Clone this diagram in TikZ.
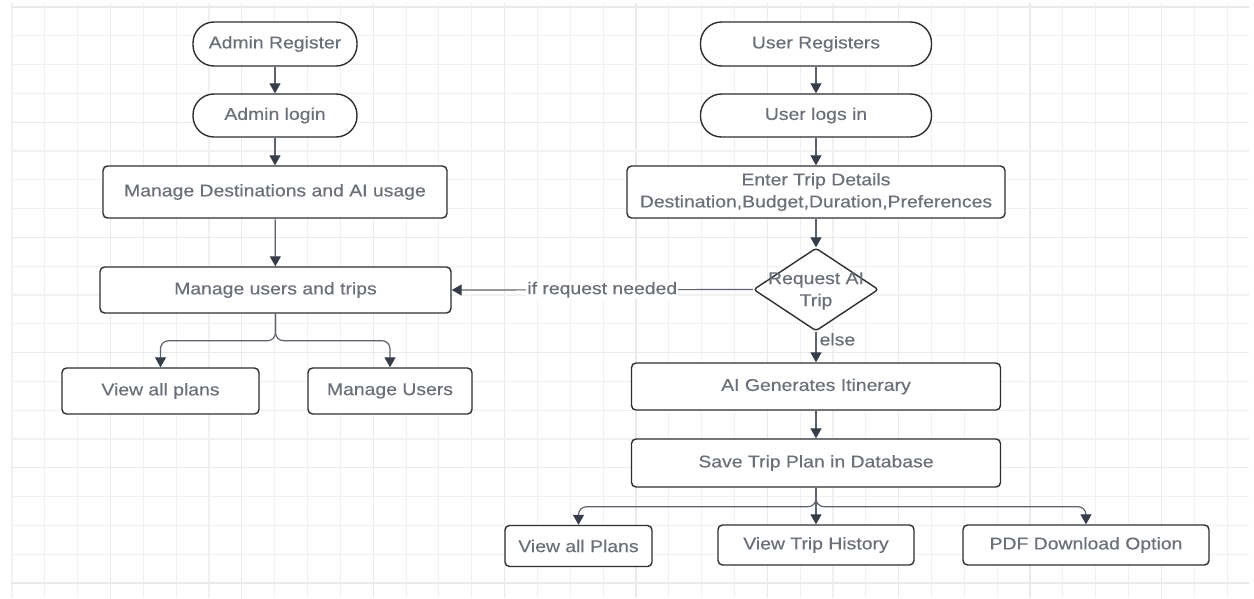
\documentclass[tikz,border=0pt]{standalone}
\usepackage{fontspec}
\setmainfont{Liberation Sans}[FakeStretch=1.14, FakeBold=0.35]
\usetikzlibrary{arrows.meta,shapes.geometric}

\definecolor{gridminor}{HTML}{F1F1F1}
\definecolor{gridmajor}{HTML}{EAEAEA}
\definecolor{boxline}{HTML}{2E2F33}
\definecolor{txt}{HTML}{6B6F77}
\definecolor{wire}{HTML}{5E636B}
\definecolor{tipcol}{HTML}{363C48}

\tikzset{
  base/.style={draw=boxline, line width=1.4pt, fill=white, text=txt,
    font=\fontsize{17}{22}\selectfont, inner sep=0pt, align=center},
  term/.style 2 args={base, rounded corners=21pt, minimum width=#1pt, minimum height=#2pt},
  proc/.style 2 args={base, rounded corners=4.5pt, minimum width=#1pt, minimum height=#2pt},
  decision/.style={diamond, draw=boxline, line width=1.4pt, fill=white,
    rounded corners=3pt, minimum width=125pt, minimum height=83pt, inner sep=0pt},
  arr/.style={draw=wire, line width=1.2pt,
    -{Triangle[length=10pt,width=11pt,color=tipcol]}},
  lbl/.style={text=txt, font=\fontsize{17}{22}\selectfont, inner sep=1pt}
}

\begin{document}
\begin{tikzpicture}[x=1pt, y=-1pt]
  \useasboundingbox (0,0) rectangle (1254,598);
  \fill[white] (0,0) rectangle (1254,598);

  % background grid
  \foreach \k in {0,...,37} {
    \pgfmathtruncatemacro{\m}{mod(\k,4)}
    \ifnum\m=3
      \draw[gridmajor, line width=1.1pt] ({12+32.84*\k},3) -- ({12+32.84*\k},598);
    \else
      \draw[gridminor, line width=1.1pt] ({12+32.84*\k},3) -- ({12+32.84*\k},598);
    \fi
  }
  \foreach \j in {0,...,20} {
    \pgfmathtruncatemacro{\m}{mod(\j,4)}
    \ifnum\m=0
      \draw[gridmajor, line width=1.1pt] (11,{7+28.8*\j}) -- (1249,{7+28.8*\j});
    \else
      \draw[gridminor, line width=1.1pt] (11,{7+28.8*\j}) -- (1249,{7+28.8*\j});
    \fi
  }

  % admin flow
  \node[term={164}{44}] (ar) at (275,44) {Admin Register};
  \node[term={164}{43}] (al) at (275,115.5) {Admin login};
  \node[proc={344}{52}] (md) at (275,192) {Manage Destinations and AI usage};
  \node[proc={351}{46}] (mu) at (275.5,290) {Manage users and trips};
  \node[proc={197}{46}] (vp) at (160.5,391) {View all plans};
  \node[proc={164}{46}] (mus) at (390,391) {Manage Users};

  % user flow
  \node[term={231}{44}] (ur) at (816,44) {User Registers};
  \node[term={231}{43}] (ul) at (816,115.5) {User logs in};
  \node[proc={378}{52}] (et) at (816,192)
    {\raisebox{1pt}{Enter Trip Details}\\[-1pt]Destination,Budget,Duration,Preferences};
  \node[decision] (rq) at (816,289.5) {};
  \node[lbl, align=center] (rqt) at (816,291) {Request AI\\Trip};
  \node[proc={369}{47}] (ai) at (816,386.5) {AI Generates Itinerary};
  \node[proc={369}{48}] (sv) at (816,463) {Save Trip Plan in Database};
  \node[proc={147}{41}] (vap) at (578.5,546) {View all Plans};
  \node[proc={196}{40}] (vth) at (816,545) {View Trip History};
  \node[proc={246}{40}] (pdf) at (1086,545) {PDF Download Option};

  % admin connectors
  \draw[arr] (ar) -- (al);
  \draw[arr] (al) -- (md);
  \draw[arr] (md) -- (mu);
  \draw[arr, rounded corners=8pt] (mu.south) -- ++(0,27) -| (vp.north);
  \draw[arr, rounded corners=8pt] (mu.south) -- ++(0,27) -| (mus.north);

  % user connectors
  \draw[arr] (ur) -- (ul);
  \draw[arr] (ul) -- (et);
  \draw[arr] (et.south) -- (rq.north);
  \draw[arr] (rq.west) -- node[lbl, fill=white, midway] {if request needed} (mu.east);
  \draw[arr] (rq.south) -- node[lbl, anchor=west, pos=0.25, xshift=2pt] {else} (ai.north);
  \draw[arr] (ai) -- (sv);
  \draw[arr, rounded corners=8pt] (sv.south) -- ++(0,19) -| (vap.north);
  \draw[arr] (sv.south) -- (vth.north);
  \draw[arr, rounded corners=8pt] (sv.south) -- ++(0,19) -| (pdf.north);
\end{tikzpicture}
\end{document}
